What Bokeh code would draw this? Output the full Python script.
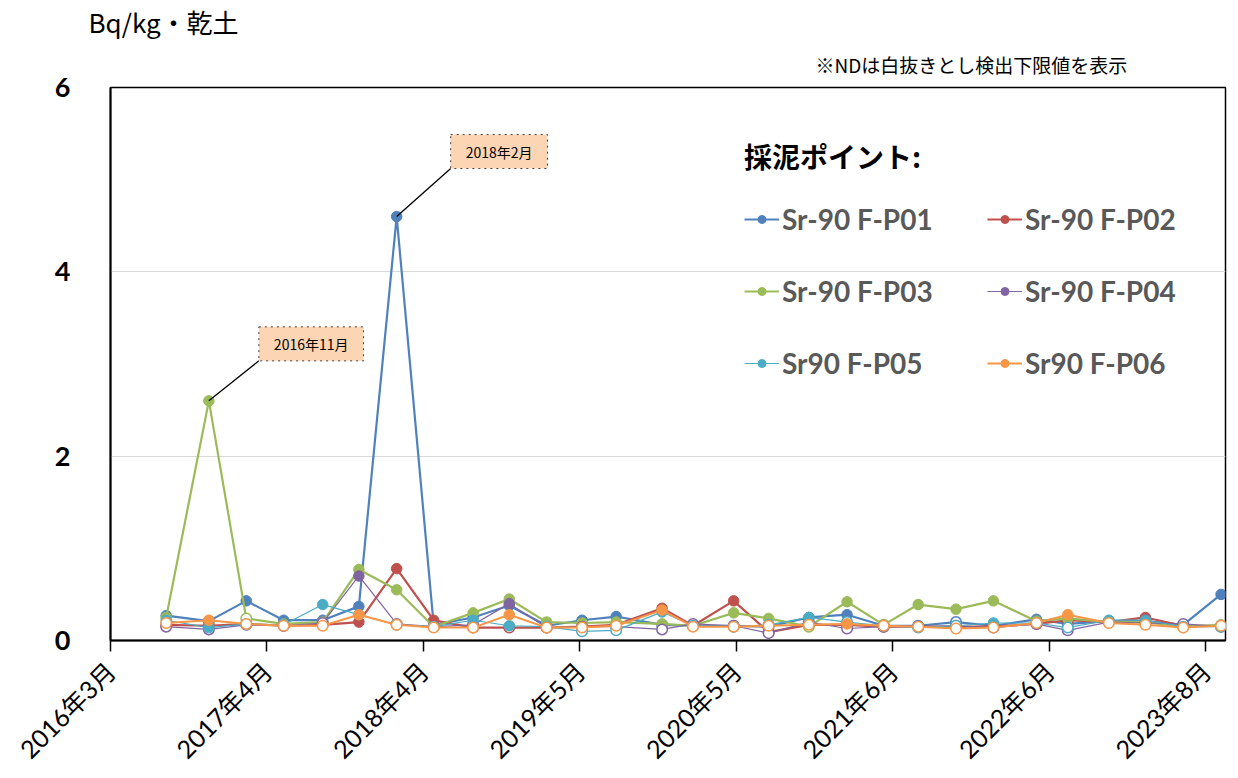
import math
import pandas as pd
from bokeh.plotting import figure
from bokeh.models import (ColumnDataSource, Range1d, FixedTicker, Legend, LegendItem, Label, Title)
from bokeh.embed import file_html
from bokeh.resources import INLINE

# ---------------- data ----------------
sample_dates = ["2016-07-28", "2016-11-10", "2017-02-10", "2017-05-13", "2017-08-17",
                "2017-11-14", "2018-02-15", "2018-05-17", "2018-08-22", "2018-11-19",
                "2019-02-19", "2019-05-17", "2019-08-09", "2019-11-30", "2020-02-14",
                "2020-05-24", "2020-08-18", "2020-11-25", "2021-02-27", "2021-05-28",
                "2021-08-21", "2021-11-22", "2022-02-22", "2022-06-08", "2022-08-24",
                "2022-12-03", "2023-03-03", "2023-06-04", "2023-09-05"]

series_names = ["Sr-90 F-P01", "Sr-90 F-P02", "Sr-90 F-P03",
                "Sr-90 F-P04", "Sr90 F-P05", "Sr90 F-P06"]
series_colors = ["#4F81BD", "#C0504D", "#9BBB59", "#8064A2", "#4BACC6", "#F79646"]

p01 = [0.27, 0.21, 0.43, 0.22, 0.22, 0.37, 4.60, 0.17, 0.25, 0.38, 0.16, 0.22, 0.26, 0.17, 0.16,
       0.16, 0.15, 0.25, 0.28, 0.16, 0.16, 0.20, 0.16, 0.23, 0.18, 0.21, 0.21, 0.17, 0.50]
p01_nd = [0, 1, 0, 0, 0, 0, 0, 0, 0, 0, 1, 0, 0, 1, 1, 1, 1, 0, 0, 1, 1, 1, 1, 0, 1, 1, 1, 1, 0]

p02 = [0.17, 0.16, 0.18, 0.16, 0.17, 0.20, 0.78, 0.22, 0.14, 0.14, 0.14, 0.15, 0.17, 0.35, 0.16,
       0.43, 0.09, 0.17, 0.17, 0.15, 0.15, 0.15, 0.15, 0.18, 0.22, 0.20, 0.25, 0.16, 0.16]
p02_nd = [1, 1, 1, 1, 1, 0, 0, 0, 1, 1, 1, 1, 1, 0, 1, 0, 1, 1, 1, 1, 1, 1, 1, 1, 1, 1, 0, 1, 1]

p03 = [0.25, 2.60, 0.24, 0.18, 0.20, 0.77, 0.55, 0.15, 0.30, 0.45, 0.20, 0.19, 0.20, 0.18, 0.16,
       0.30, 0.24, 0.15, 0.42, 0.17, 0.39, 0.34, 0.43, 0.21, 0.24, 0.20, 0.20, 0.15, 0.17]
p03_nd = [0, 0, 1, 0, 0, 0, 0, 1, 0, 0, 0, 0, 0, 0, 1, 0, 0, 1, 0, 1, 0, 0, 0, 0, 0, 1, 1, 1, 0]

p04 = [0.15, 0.12, 0.17, 0.16, 0.19, 0.70, 0.18, 0.15, 0.17, 0.40, 0.14, 0.15, 0.15, 0.12, 0.18,
       0.16, 0.08, 0.20, 0.13, 0.15, 0.15, 0.16, 0.14, 0.18, 0.11, 0.20, 0.19, 0.18, 0.15]
p04_nd = [1, 1, 1, 1, 1, 0, 1, 1, 1, 0, 1, 1, 1, 1, 1, 1, 1, 1, 1, 1, 1, 1, 1, 1, 1, 1, 1, 1, 1]

p05 = [0.22, 0.14, 0.18, 0.17, 0.39, 0.28, 0.17, 0.15, 0.22, 0.16, 0.15, 0.10, 0.11, 0.31, 0.16,
       0.15, 0.17, 0.25, 0.20, 0.16, 0.14, 0.16, 0.19, 0.19, 0.14, 0.22, 0.22, 0.15, 0.15]
p05_nd = [0, 0, 1, 0, 0, 0, 1, 1, 0, 0, 1, 1, 1, 0, 1, 1, 1, 0, 1, 1, 1, 1, 0, 1, 1, 0, 0, 1, 1]

p06 = [0.19, 0.22, 0.18, 0.16, 0.16, 0.28, 0.17, 0.14, 0.14, 0.28, 0.14, 0.14, 0.16, 0.33, 0.15,
       0.15, 0.16, 0.17, 0.18, 0.16, 0.15, 0.13, 0.14, 0.19, 0.28, 0.19, 0.17, 0.14, 0.16]
p06_nd = [1, 0, 1, 1, 1, 0, 1, 1, 1, 0, 1, 1, 1, 0, 1, 1, 1, 1, 0, 1, 1, 1, 1, 1, 0, 1, 1, 1, 1]

series_values = [p01, p02, p03, p04, p05, p06]
series_nd = [p01_nd, p02_nd, p03_nd, p04_nd, p05_nd, p06_nd]

x_tick_dates = ["2016-03-13", "2017-04-02", "2018-04-22", "2019-05-12",
                "2020-05-31", "2021-06-20", "2022-07-10", "2023-07-30"]
x_tick_labels = ["2016年3月", "2017年4月", "2018年4月", "2019年5月",
                 "2020年5月", "2021年6月", "2022年6月", "2023年8月"]
x_axis_start = "2016-03-13"
x_axis_end = "2023-09-16"
y_ticks = [0, 2, 4, 6]

callout_texts = ["2016年11月", "2018年2月"]
callout_series = [2, 0]
callout_index = [1, 6]

unit_text = "Bq/kg・乾土"
note_text = "※NDは白抜きとし検出下限値を表示"
legend_title = "採泥ポイント:"

# ---------------- helpers ----------------
EPOCH = pd.Timestamp("1970-01-01")


def to_ms(s):
    return float((pd.Timestamp(s) - EPOCH) / pd.Timedelta(milliseconds=1))


xs = [to_ms(d) for d in sample_dates]
x0, x1 = to_ms(x_axis_start), to_ms(x_axis_end)

FRAME_W, FRAME_H = 1115, 553
ms_per_px = (x1 - x0) / FRAME_W
val_per_px = 6.0 / FRAME_H

JP = "Noto Sans CJK JP"
MIX = "Lato, 'Noto Sans CJK JP'"

p = figure(width=1230, height=778,
           x_range=Range1d(x0, x1), y_range=Range1d(0, 6),
           x_axis_type="datetime",
           output_backend="svg", toolbar_location=None,
           min_border_left=110, min_border_right=5,
           min_border_top=87, min_border_bottom=138)

p.background_fill_color = "white"
p.border_fill_color = "white"
p.outline_line_color = "black"
p.outline_line_width = 1.5

# texts above the frame
p.add_layout(Title(text=note_text, align="left", offset=705, standoff=19,
                   text_font=JP, text_font_size="19px", text_font_style="normal",
                   text_color="black"), "above")
p.add_layout(Title(text=unit_text, align="left", offset=-22, standoff=0,
                   text_font=JP, text_font_size="26px", text_font_style="normal",
                   text_color="black"), "above")

# grid
p.xgrid.visible = False
p.ygrid.grid_line_color = "#D9D9D9"
p.ygrid.grid_line_width = 1

# y axis
p.yaxis.ticker = FixedTicker(ticks=y_ticks)
p.yaxis.major_label_text_font = "Lato"
p.yaxis.major_label_text_font_style = "bold"
p.yaxis.major_label_text_font_size = "27px"
p.yaxis.major_label_text_color = "black"
p.yaxis.major_label_standoff = 40
p.yaxis.major_tick_out = 0
p.yaxis.major_tick_in = 0
p.yaxis.minor_tick_line_color = None
p.yaxis.axis_line_color = "black"
p.yaxis.axis_line_width = 2

# x axis
tick_ms = [to_ms(d) for d in x_tick_dates]
p.xaxis.ticker = FixedTicker(ticks=tick_ms)
p.xaxis.major_label_overrides = {t: lab for t, lab in zip(tick_ms, x_tick_labels)}
p.xaxis.major_label_orientation = math.pi / 4
p.xaxis.major_label_text_font = MIX
p.xaxis.major_label_text_font_size = "25px"
p.xaxis.major_label_text_color = "black"
p.xaxis.major_label_standoff = 15
p.xaxis.major_tick_out = 11
p.xaxis.major_tick_in = 0
p.xaxis.major_tick_line_color = "black"
p.xaxis.major_tick_line_width = 1.5
p.xaxis.minor_tick_line_color = None
p.xaxis.axis_line_color = "black"
p.xaxis.axis_line_width = 2

# series
legend_items = []
line_widths = [2.2, 2.2, 2.2, 1.2, 1.2, 2.0]
for name, color, vals, nd, lw in zip(series_names, series_colors, series_values, series_nd, line_widths):
    src = ColumnDataSource(dict(x=xs, y=vals))
    lr = p.line("x", "y", source=src, line_color=color, line_width=lw)
    fx = [x for x, f in zip(xs, nd) if not f]
    fy = [v for v, f in zip(vals, nd) if not f]
    hx = [x for x, f in zip(xs, nd) if f]
    hy = [v for v, f in zip(vals, nd) if f]
    fr = p.scatter(x=fx, y=fy, marker="circle", size=10.5,
                   fill_color=color, line_color=color, line_width=1)
    p.scatter(x=hx, y=hy, marker="circle", size=10.5,
              fill_color="white", line_color=color, line_width=1.5)
    legend_items.append(LegendItem(label=name, renderers=[lr, fr]))

legend = Legend(items=legend_items, orientation="horizontal", ncols=2,
                location=(634, 260),
                title=legend_title, title_text_font=JP, title_text_font_style="bold",
                title_text_font_size="28px", title_text_color="black", title_standoff=26,
                label_text_font="Lato", label_text_font_style="bold",
                label_text_font_size="28px", label_text_color="#595959",
                glyph_width=35, glyph_height=20, label_height=32, label_standoff=3,
                label_width=167, spacing=38, padding=0, margin=0,
                border_line_color=None, background_fill_alpha=0)
p.add_layout(legend, "center")

# callouts
callout_dx = [50, 54]
callout_dy = [40, 48]
for txt, si, pi, dx, dy in zip(callout_texts, callout_series, callout_index, callout_dx, callout_dy):
    px = xs[pi]
    py = series_values[si][pi]
    p.segment(x0=[px], y0=[py], x1=[px + dx * ms_per_px], y1=[py + dy * val_per_px],
              line_color="black", line_width=1.3)
    lab = Label(x=px + dx * ms_per_px, y=py + dy * val_per_px, text=txt,
                anchor="bottom_left",
                text_font=JP, text_font_size="14px", text_color="black",
                padding=(15, 7),
                background_fill_color="#FCD5B5",
                border_line_color="#404040", border_line_dash="dotted", border_line_width=1)
    p.add_layout(lab)

open("out.html", "w").write(file_html(p, INLINE))
